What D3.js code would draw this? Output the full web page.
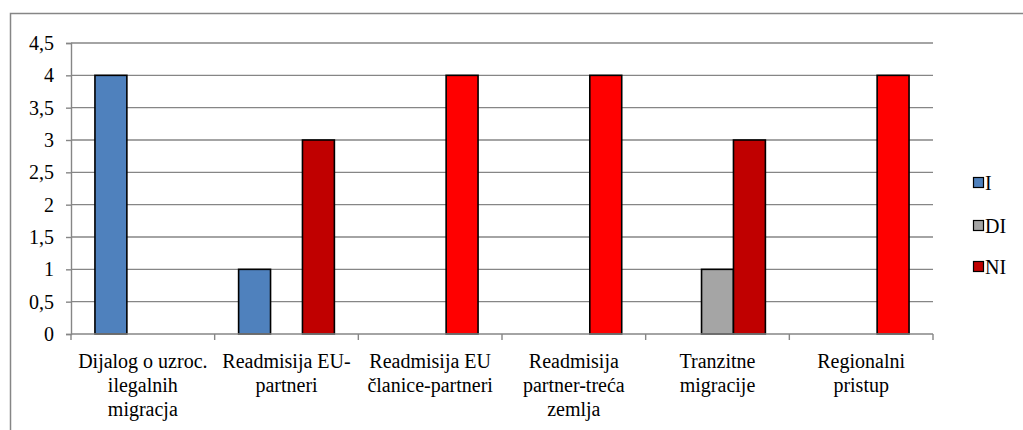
<!DOCTYPE html>
<html>
<head>
<meta charset="utf-8">
<script src="https://cdn.jsdelivr.net/npm/d3@7"></script>
<style>
  body { margin: 0; background: #fff; }
</style>
</head>
<body>
<div id="chart"></div>
<script>
// kategorije (po redovima kako su prelomljene na osi)
const categories = [
  ['Dijalog o uzroc.', 'ilegalnih', 'migracja'],
  ['Readmisija EU-', 'partneri'],
  ['Readmisija EU', 'članice-partneri'],
  ['Readmisija', 'partner-treća', 'zemlja'],
  ['Tranzitne', 'migracije'],
  ['Regionalni', 'pristup']
];
const seriesNames = ['I', 'DI', 'NI'];
const valuesI = [4, 1, 0, 0, 0, 0];
const valuesDI = [0, 0, 0, 0, 1, 0];
const valuesNI = [0, 3, 4, 4, 3, 4];
const yTicks = [0, 0.5, 1, 1.5, 2, 2.5, 3, 3.5, 4, 4.5];

const width = 1023, height = 430;
const plot = { left: 71, top: 43, right: 933, bottom: 334 };
const colors = { I: '#4F81BD', DI: '#A5A5A5', NI: '#FF0000' };
const niDark = '#C00000';
const FONT = "'Liberation Serif', 'Times New Roman', serif";
const FS = 20;

const svg = d3.select('#chart').append('svg')
  .attr('width', width).attr('height', height)
  .attr('font-family', FONT);

// okvir grafikona
svg.append('rect')
  .attr('x', 10.5).attr('y', 13.5)
  .attr('width', width + 10).attr('height', height + 10)
  .attr('fill', 'none').attr('stroke', '#868686').attr('stroke-width', 1.5);

const y = d3.scaleLinear().domain([0, 4.5]).range([plot.bottom, plot.top]);
const x0 = d3.scaleBand().domain(d3.range(categories.length))
  .range([plot.left, plot.right]);
const x1 = d3.scaleBand().domain(seriesNames)
  .range([0, x0.bandwidth()]).paddingOuter(0.75).paddingInner(0);

// mreža
svg.append('g').selectAll('line').data(yTicks.filter(d => d > 0)).join('line')
  .attr('x1', plot.left).attr('x2', plot.right)
  .attr('y1', d => y(d)).attr('y2', d => y(d))
  .attr('stroke', '#868686').attr('stroke-width', 1.4);

// y os
const yAxis = svg.append('g')
  .attr('transform', `translate(${plot.left},0)`)
  .call(d3.axisLeft(y).tickValues(yTicks).tickSize(5).tickPadding(12)
    .tickFormat(d => String(d).replace('.', ',')))
  .attr('font-family', FONT).attr('font-size', FS);
yAxis.select('.domain').attr('stroke', '#868686').attr('stroke-width', 1.4);
yAxis.selectAll('.tick line').attr('stroke', '#868686').attr('stroke-width', 1.4);
yAxis.selectAll('text').attr('fill', '#000');

// stupci
const rows = categories.map((c, i) => ({ i, I: valuesI[i], DI: valuesDI[i], NI: valuesNI[i] }));
const groups = svg.append('g').selectAll('g').data(rows).join('g')
  .attr('transform', d => `translate(${x0(d.i)},0)`);
groups.selectAll('rect')
  .data(d => seriesNames.map(k => ({ k, v: d[k], i: d.i })).filter(d => d.v > 0))
  .join('rect')
  .attr('x', d => x1(d.k))
  .attr('width', x1.bandwidth())
  .attr('y', d => y(d.v))
  .attr('height', d => y(0) - y(d.v))
  .attr('fill', d => (d.k === 'NI' && d.v === 3) ? niDark : colors[d.k])
  .attr('stroke', '#000').attr('stroke-width', 1.6);

// x os
const xg = svg.append('g');
xg.append('line')
  .attr('x1', plot.left).attr('x2', plot.right)
  .attr('y1', plot.bottom).attr('y2', plot.bottom)
  .attr('stroke', '#868686').attr('stroke-width', 1.5);
const bounds = d3.range(categories.length + 1).map(i =>
  i < categories.length ? x0(i) : plot.right);
xg.selectAll('.tk').data(bounds).join('line')
  .attr('x1', d => d).attr('x2', d => d)
  .attr('y1', plot.bottom).attr('y2', plot.bottom + 6)
  .attr('stroke', '#868686').attr('stroke-width', 1.4);
xg.selectAll('text.cat').data(categories).join('text')
  .attr('class', 'cat')
  .attr('text-anchor', 'middle')
  .attr('font-size', FS)
  .each(function (lines, i) {
    const t = d3.select(this);
    lines.forEach((ln, j) => {
      t.append('tspan')
        .attr('x', x0(i) + x0.bandwidth() / 2)
        .attr('y', 368 + j * 24)
        .text(ln);
    });
  });

// legenda
const legendColors = [colors.I, colors.DI, niDark];
const lg = svg.append('g').attr('transform', 'translate(973,0)');
const ly = [183, 226, 267];
seriesNames.forEach((s, i) => {
  lg.append('rect')
    .attr('x', 0.5).attr('y', ly[i] - 5.5)
    .attr('width', 10).attr('height', 10)
    .attr('fill', legendColors[i]).attr('stroke', '#000').attr('stroke-width', 1.2);
  lg.append('text')
    .attr('x', 12).attr('y', ly[i] + 7)
    .attr('font-size', FS)
    .text(s);
});
</script>
</body>
</html>
